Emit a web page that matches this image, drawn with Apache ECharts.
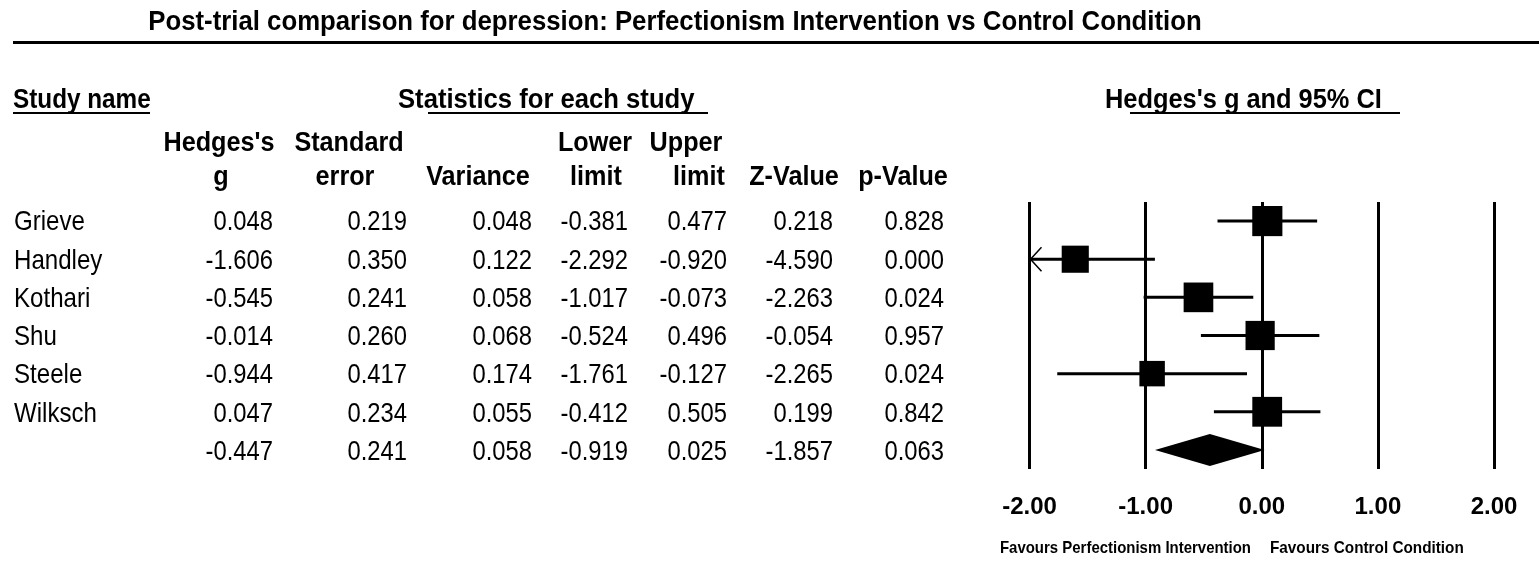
<!DOCTYPE html>
<html>
<head>
<meta charset="utf-8">
<title>Forest plot</title>
<script src="https://cdn.jsdelivr.net/npm/echarts@6/dist/echarts.min.js"></script>
<style>
  html, body { margin: 0; padding: 0; background: #ffffff; }
  #chart { width: 1539px; height: 565px; }
</style>
</head>
<body>
<div id="chart"></div>
<script>
// ---- Study-level statistics ----
const studies    = ['Grieve', 'Handley', 'Kothari', 'Shu', 'Steele', 'Wilksch'];
const hedgesG    = [0.048, -1.606, -0.545, -0.014, -0.944, 0.047];
const stdErr     = [0.219, 0.350, 0.241, 0.260, 0.417, 0.234];
const variance   = [0.048, 0.122, 0.058, 0.068, 0.174, 0.055];
const lowerLimit = [-0.381, -2.292, -1.017, -0.524, -1.761, -0.412];
const upperLimit = [0.477, -0.920, -0.073, 0.496, -0.127, 0.505];
const zValue     = [0.218, -4.590, -2.263, -0.054, -2.265, 0.199];
const pValue     = [0.828, 0.000, 0.024, 0.957, 0.024, 0.842];

// ---- Pooled (random-effects) row, same column order ----
const pooledRow = [-0.447, 0.241, 0.058, -0.919, 0.025, -1.857, 0.063];

// ---- Axis ticks ----
const axisTicks = [-2, -1, 0, 1, 2];

const FONT = '"Liberation Sans", Arial, sans-serif';
const fmt3 = v => v.toFixed(3);

// DerSimonian-Laird between-study variance, used for random-effects weights
function dlTau2(y, v) {
  const w = v.map(x => 1 / x);
  const sw = w.reduce((a, b) => a + b, 0);
  const sw2 = w.reduce((a, b) => a + b * b, 0);
  const ybar = w.reduce((a, wi, i) => a + wi * y[i], 0) / sw;
  const q = w.reduce((a, wi, i) => a + wi * (y[i] - ybar) ** 2, 0);
  const c = sw - sw2 / sw;
  return Math.max(0, (q - (y.length - 1)) / c);
}
const tau2 = dlTau2(hedgesG, variance);
const reWeight = variance.map(v => 1 / (v + tau2));

// ---- Text helpers ----
function txt(x, y, text, o) {
  o = o || {};
  const size = o.size || 28;
  const weight = o.bold ? 'bold ' : '';
  return {
    type: 'text',
    x: x, y: y,
    scaleX: o.sx || 0.86,
    silent: true,
    style: {
      text: text,
      font: weight + size + 'px ' + FONT,
      fill: '#000',
      align: o.align || 'left',
      textAlign: o.align || 'left',
      verticalAlign: 'middle',
      textVerticalAlign: 'middle'
    }
  };
}
function hline(x1, x2, y, w) {
  return {
    type: 'line', silent: true,
    shape: { x1: x1, y1: y, x2: x2, y2: y },
    style: { stroke: '#000', lineWidth: w }
  };
}

const graphics = [];

// Title and rule
graphics.push(txt(675, 22, 'Post-trial comparison for depression: Perfectionism Intervention vs Control Condition', { bold: true, size: 28, align: 'center', sx: 0.92 }));
graphics.push(hline(13, 1539, 42.5, 3));

// Section headings with underlines
graphics.push(txt(13, 101, 'Study name', { bold: true, size: 27, sx: 0.9 }));
graphics.push(hline(13, 150, 113, 2));
graphics.push(txt(398, 101, 'Statistics for each study', { bold: true, size: 27, sx: 0.95 }));
graphics.push(hline(428, 708, 113, 2));
graphics.push(txt(1105, 101, "Hedges's g and 95% CI", { bold: true, size: 27, sx: 0.94 }));
graphics.push(hline(1130, 1400, 113, 2));

// Column headers (two lines)
const colRight = [273, 407, 532, 628, 727, 833, 944];
const headTop  = ["Hedges's", 'Standard', '', 'Lower', 'Upper', '', ''];
const headBot  = ['g', 'error', 'Variance', 'limit', 'limit', 'Z-Value', 'p-Value'];
const headTopX = [219, 349, 0, 595, 686, 0, 0];
const headBotX = [221, 345, 478, 596, 699, 794, 903];
headTop.forEach((t, i) => { if (t) graphics.push(txt(headTopX[i], 143, t, { bold: true, size: 28, align: 'center', sx: 0.9 })); });
headBot.forEach((t, i) => graphics.push(txt(headBotX[i], 177, t, { bold: true, size: 28, align: 'center', sx: 0.9 })));

// Table body
const rowY0 = 222.5, rowStep = 38.3;
const columns = [hedgesG, stdErr, variance, lowerLimit, upperLimit, zValue, pValue];
studies.forEach((name, r) => {
  const y = rowY0 + r * rowStep;
  graphics.push(txt(14, y, name, { size: 28, sx: 0.86 }));
  columns.forEach((col, c) => graphics.push(txt(colRight[c], y, fmt3(col[r]), { size: 28, align: 'right', sx: 0.85 })));
});
pooledRow.forEach((v, c) => graphics.push(txt(colRight[c], rowY0 + studies.length * rowStep, fmt3(v), { size: 28, align: 'right', sx: 0.85 })));

// Direction labels under the axis
graphics.push(txt(1251, 548, 'Favours Perfectionism Intervention', { bold: true, size: 17, align: 'right', sx: 0.88 }));
graphics.push(txt(1270, 548, 'Favours Control Condition', { bold: true, size: 17, align: 'left', sx: 0.9 }));

// ---- Series data for the forest plot ----
const xMin = axisTicks[0], xMax = axisTicks[axisTicks.length - 1];
const studyData = studies.map((s, i) => [i, hedgesG[i], lowerLimit[i], upperLimit[i], reWeight[i]]);
const pooledData = [[studies.length, pooledRow[0], pooledRow[3], pooledRow[4]]];

function renderStudy(params, api) {
  const row = api.value(0);
  const g = api.value(1);
  const lo = api.value(2);
  const hi = api.value(3);
  const w = api.value(4);
  const loClip = Math.max(lo, xMin);
  const hiClip = Math.min(hi, xMax);
  const pL = api.coord([loClip, row]);
  const pH = api.coord([hiClip, row]);
  const pC = api.coord([g, row]);
  const side = 16.9 * Math.sqrt(w);
  const children = [
    { type: 'line', shape: { x1: pL[0], y1: pL[1], x2: pH[0], y2: pH[1] },
      style: { stroke: '#000', lineWidth: 3 } },
    { type: 'rect', shape: { x: pC[0] - side / 2, y: pC[1] - side / 2, width: side, height: side },
      style: { fill: '#000' } }
  ];
  if (lo < xMin) {
    children.push({ type: 'polyline',
      shape: { points: [[pL[0] + 12, pL[1] - 12], [pL[0] + 1, pL[1]], [pL[0] + 12, pL[1] + 12]] },
      style: { stroke: '#000', lineWidth: 1.5, fill: null } });
  }
  return { type: 'group', children: children };
}

function renderPooled(params, api) {
  const row = api.value(0);
  const c = api.coord([api.value(1), row]);
  const l = api.coord([api.value(2), row]);
  const h = api.coord([api.value(3), row]);
  const half = 16;
  return {
    type: 'polygon',
    shape: { points: [[l[0], l[1]], [c[0], c[1] - half], [h[0], h[1]], [c[0], c[1] + half]] },
    style: { fill: '#000' }
  };
}

const chart = echarts.init(document.getElementById('chart'), null, { renderer: 'canvas' });
chart.setOption({
  animation: false,
  backgroundColor: '#ffffff',
  grid: { left: 1029.5, right: 45, top: 202, bottom: 96, containLabel: false },
  xAxis: {
    type: 'value', min: xMin, max: xMax, interval: 1,
    axisLine: { show: false }, axisTick: { show: false },
    splitLine: { show: true, lineStyle: { color: '#000', width: 3 } },
    axisLabel: {
      margin: 26, color: '#000', fontWeight: 'bold', fontSize: 24, fontFamily: FONT,
      formatter: v => v.toFixed(2)
    }
  },
  yAxis: {
    type: 'category', inverse: true,
    data: studies.concat(['Combined']),
    show: false
  },
  series: [
    { type: 'custom', renderItem: renderStudy, data: studyData, clip: false, z: 3 },
    { type: 'custom', renderItem: renderPooled, data: pooledData, clip: false, z: 3 }
  ],
  graphic: graphics
});
</script>
</body>
</html>
